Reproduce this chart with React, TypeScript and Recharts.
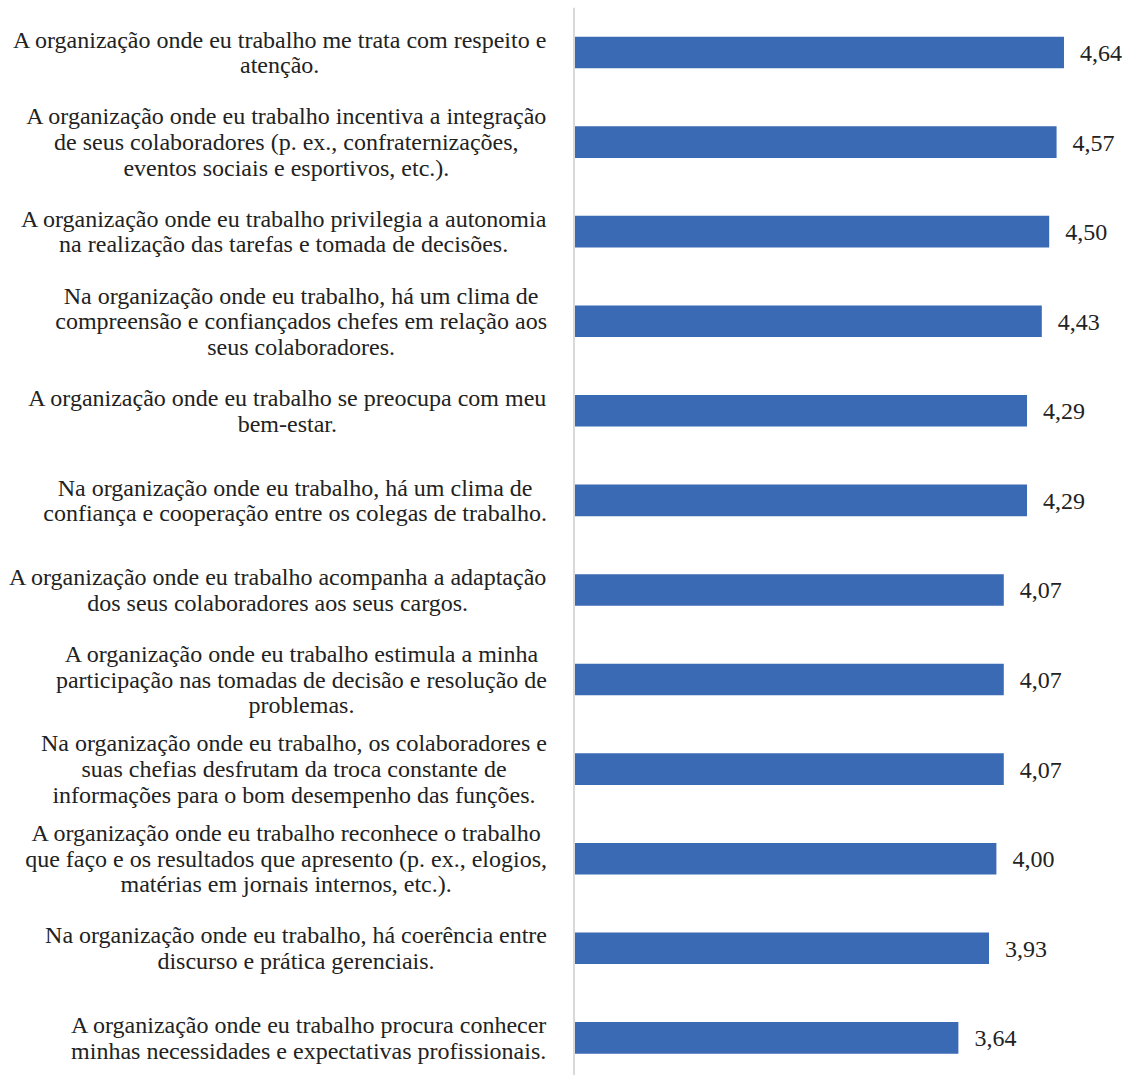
import { Bar, BarChart, LabelList, XAxis, YAxis } from "recharts";

// Médias das afirmações sobre a organização (barras horizontais, escala 0–5)

const categories = [
  "A organização onde eu trabalho me trata com respeito e\natenção.",
  "A organização onde eu trabalho incentiva a integração\nde seus colaboradores (p. ex., confraternizações,\neventos sociais e esportivos, etc.).",
  "A organização onde eu trabalho privilegia a autonomia\nna realização das tarefas e tomada de decisões.",
  "Na organização onde eu trabalho, há um clima de\ncompreensão e confiançados chefes em relação aos\nseus colaboradores.",
  "A organização onde eu trabalho se preocupa com meu\nbem-estar.",
  "Na organização onde eu trabalho, há um clima de\nconfiança e cooperação entre os colegas de trabalho.",
  "A organização onde eu trabalho acompanha a adaptação\ndos seus colaboradores aos seus cargos.",
  "A organização onde eu trabalho estimula a minha\nparticipação nas tomadas de decisão e resolução de\nproblemas.",
  "Na organização onde eu trabalho, os colaboradores e\nsuas chefias desfrutam da troca constante de\ninformações para o bom desempenho das funções.",
  "A organização onde eu trabalho reconhece o trabalho\nque faço e os resultados que apresento (p. ex., elogios,\nmatérias em jornais internos, etc.).",
  "Na organização onde eu trabalho, há coerência entre\ndiscurso e prática gerenciais.",
  "A organização onde eu trabalho procura conhecer\nminhas necessidades e expectativas profissionais.",
];

const scores = [4.64, 4.57, 4.5, 4.43, 4.29, 4.29, 4.07, 4.07, 4.07, 4.0, 3.93, 3.64];

const data = categories.map((name, i) => ({ name, score: scores[i] }));

const FONT = "'Liberation Serif', 'Times New Roman', serif";
const FONT_SIZE = 24;
const LINE_H = 25.7;
const LABEL_RIGHT = 547;
const TEXT = "#222222";

let ctx: CanvasRenderingContext2D | null = null;
function textWidth(s: string) {
  if (!ctx) ctx = document.createElement("canvas").getContext("2d");
  if (!ctx) return s.length * 10;
  ctx.font = `${FONT_SIZE}px ${FONT}`;
  return ctx.measureText(s).width;
}

// rótulos centralizados entre si, bloco alinhado à direita
function CategoryTick({ y, payload }: any) {
  const lines = String(payload.value).split("\n");
  const w = Math.max(...lines.map(textWidth));
  const cx = LABEL_RIGHT - w / 2;
  const first = y + 8 - ((lines.length - 1) / 2) * LINE_H;
  return (
    <text textAnchor="middle" fontFamily={FONT} fontSize={FONT_SIZE} fill={TEXT}>
      {lines.map((l, i) => (
        <tspan key={i} x={cx} y={first + i * LINE_H}>
          {l}
        </tspan>
      ))}
    </text>
  );
}

const fmt = (v: any) => Number(v).toFixed(2).replace(".", ",");

export default function App() {
  return (
    <div
      style={{
        position: "fixed",
        left: 0,
        top: 0,
        width: 1137,
        height: 1075,
        overflow: "hidden",
        background: "#fff",
      }}
    >
      <BarChart
        width={1137}
        height={1090}
        data={data}
        layout="vertical"
        margin={{ top: 7.7, right: 35, bottom: 7.4, left: 0 }}
      >
        <XAxis type="number" domain={[0, 5]} hide />
        <YAxis
          type="category"
          dataKey="name"
          width={574}
          axisLine={{ stroke: "#d9d9d9", strokeWidth: 2 }}
          tickLine={false}
          tick={<CategoryTick />}
          interval={0}
        />
        <Bar dataKey="score" fill="#3B6AB4" barSize={31.6} isAnimationActive={false}>
          <LabelList
            dataKey="score"
            position="right"
            offset={16}
            formatter={fmt}
            fontFamily={FONT}
            fontSize={FONT_SIZE}
            fill={TEXT}
          />
        </Bar>
      </BarChart>
    </div>
  );
}
